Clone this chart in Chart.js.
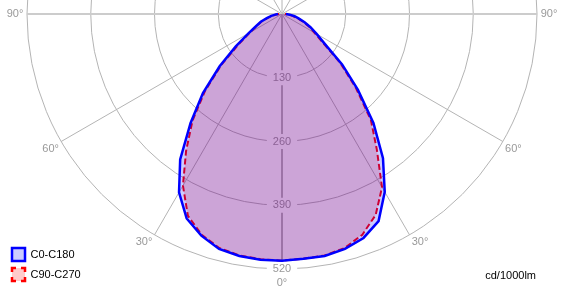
<!DOCTYPE html>
<html>
<head>
<meta charset="utf-8">
<script src="https://cdn.jsdelivr.net/npm/chart.js@4/dist/chart.umd.min.js"></script>
<style>
  html, body { margin: 0; padding: 0; background: #fff; }
  #wrap { position: relative; width: 562px; height: 293px; }
</style>
</head>
<body>
<div id="wrap"><canvas id="myChart"></canvas></div>
<script>
// gamma angles, degrees from nadir
const gamma = [0, 5, 10, 15, 20, 25, 30, 35, 40, 45, 50, 55, 60, 65, 70, 75, 80, 85, 90];
// intensities in cd/1000lm
const c0   = [503, 501, 501, 496, 486, 466, 419, 359, 290, 219, 160, 107, 82, 64, 49, 35, 26, 16, 8];
const c180 = [503, 503, 501, 496, 481, 460, 420, 362, 290, 228, 166, 115, 79, 58, 46, 32, 22, 14, 8];
const c90  = [503, 501, 500, 494, 479, 452, 408, 337, 282, 213, 155, 102, 76, 62, 46, 32, 22, 14, 6];
const c270 = [503, 502, 500, 494, 479, 454, 404, 341, 284, 222, 162, 108, 76, 56, 44, 30, 20, 12, 6];
// grid
const rings = [130, 260, 390, 520];
const spokes = [0, 30, 60, 90, 120, 150, 180, 210, 240, 270, 300, 330];
const angleLabels = [-90, -60, -30, 0, 30, 60, 90];

const FONT = "Tahoma, 'Liberation Sans', Arial, sans-serif";

// where the pole sits and how big the 520 ring is
const CX = 282, CY = 14, R = 255, PAD_L = 5, PAD_B = 5, W = 562, H = 293;
const k = R / rings[rings.length - 1];

// polar -> cartesian values (cd), left half negative x
function toXY(values, side) {
    return gamma.map((g, i) => {
        const a = g * Math.PI / 180;
        return { x: side * values[i] * Math.sin(a), y: -values[i] * Math.cos(a) };
    });
}
// left half from 90 down to 0, then right half back up to 90
function curve(left, right) {
    return toXY(left, -1).reverse().concat(toXY(right, 1).slice(1));
}

const legendFills = ['#ccccff', '#ffcccc'];

const polarGrid = {
    id: 'polarGrid',
    beforeDatasetsDraw(chart) {
        const ctx = chart.ctx;
        const sx = chart.scales.x, sy = chart.scales.y;
        const cx = sx.getPixelForValue(0), cy = sy.getPixelForValue(0);
        const rad = v => sx.getPixelForValue(v) - cx;
        const rMax = rad(rings[rings.length - 1]);

        ctx.save();
        ctx.font = '11px ' + FONT;

        // leave gaps in the grid behind the ring labels
        ctx.beginPath();
        ctx.rect(0, 0, chart.width, chart.height);
        rings.forEach(r => {
            const w = ctx.measureText(String(r)).width;
            ctx.rect(cx - w / 2 - 6, cy + rad(r) - 7.5, w + 12, 15);
        });
        ctx.clip('evenodd');

        ctx.strokeStyle = '#b4b4b4';
        ctx.lineWidth = 1;
        rings.forEach(r => {
            ctx.beginPath();
            ctx.arc(cx, cy, rad(r), 0, Math.PI * 2);
            ctx.stroke();
        });

        spokes.forEach(s => {
            const a = s * Math.PI / 180;
            ctx.beginPath();
            if (s === 90 || s === 270) {
                ctx.strokeStyle = '#cccccc';
                ctx.lineWidth = 2;
            } else if (s === 0) {
                ctx.strokeStyle = '#b4b4b4';
                ctx.lineWidth = 2;
            } else {
                ctx.strokeStyle = '#b4b4b4';
                ctx.lineWidth = 1;
            }
            ctx.moveTo(cx, cy);
            ctx.lineTo(cx + rMax * Math.sin(a), cy + rMax * Math.cos(a));
            ctx.stroke();
        });
        ctx.restore();

        ctx.save();
        ctx.font = '11px ' + FONT;
        ctx.fillStyle = '#999999';
        ctx.textAlign = 'center';
        ctx.textBaseline = 'middle';
        rings.forEach(r => ctx.fillText(String(r), cx, cy + rad(r)));

        angleLabels.forEach(d => {
            const a = d * Math.PI / 180;
            let x = cx + rMax * Math.sin(a), y = cy + rMax * Math.cos(a);
            const sgn = Math.sign(d);
            if (d === 0) y += 14;
            else if (Math.abs(d) === 90) x += sgn * 12;
            else { x += sgn * 10.5; y += 7.5; }
            ctx.fillText(Math.abs(d) + '°', x, y);
        });

        ctx.fillStyle = '#000000';
        ctx.textAlign = 'right';
        ctx.fillText('cd/1000lm', 536, 276);
        ctx.restore();
    }
};

const ctx = document.getElementById('myChart');
const myChart = new Chart(ctx, {
    type: 'scatter',
    data: {
        datasets: [
            {
                label: 'C0-C180',
                data: curve(c180, c0),
                showLine: true,
                borderColor: '#0000ff',
                borderWidth: 2.5,
                backgroundColor: 'rgba(0, 0, 255, 0.2)',
                fill: 'shape',
                pointRadius: 0,
                tension: 0
            },
            {
                label: 'C90-C270',
                data: curve(c270, c90),
                showLine: true,
                borderColor: '#ff0000',
                borderWidth: 2,
                borderDash: [6, 3],
                backgroundColor: 'rgba(255, 0, 0, 0.2)',
                fill: 'shape',
                pointRadius: 0,
                tension: 0
            }
        ]
    },
    options: {
        responsive: true,
        maintainAspectRatio: false,
        animation: false,
        events: [],
        layout: { padding: { left: PAD_L, bottom: PAD_B, top: 0, right: 0 } },
        scales: {
            x: {
                type: 'linear', display: false, bounds: 'data',
                min: -(CX - PAD_L) / k, max: (W - CX) / k
            },
            y: {
                type: 'linear', display: false, bounds: 'data',
                min: -(H - PAD_B - CY) / k, max: CY / k
            }
        },
        plugins: {
            tooltip: { enabled: false },
            legend: {
                position: 'chartArea',
                align: 'end',
                labels: {
                    boxWidth: 13,
                    boxHeight: 13,
                    padding: 7,
                    color: '#000000',
                    font: { size: 11, family: FONT },
                    generateLabels: chart => chart.data.datasets.map((ds, i) => ({
                        text: ds.label,
                        fillStyle: legendFills[i],
                        strokeStyle: ds.borderColor,
                        lineWidth: 2.5,
                        lineDash: i === 1 ? [8, 5] : [],
                        lineDashOffset: 4,
                        hidden: false,
                        datasetIndex: i
                    }))
                }
            }
        }
    },
    plugins: [polarGrid]
});
</script>
</body>
</html>
